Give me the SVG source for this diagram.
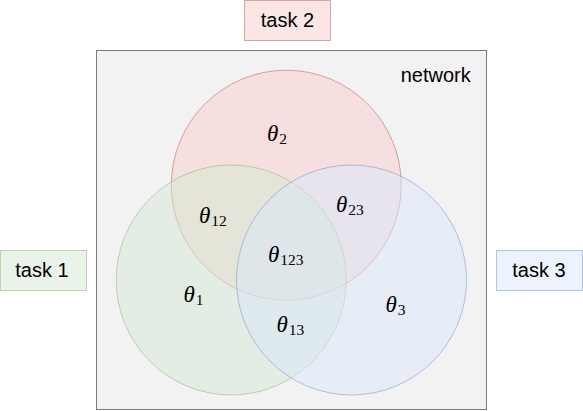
<svg xmlns="http://www.w3.org/2000/svg" width="583" height="411" viewBox="0 0 583 411">
<style>
.lbl{font-family:"Liberation Sans",Arial,sans-serif;font-size:20px;fill:#000;}
.th{font-family:"Liberation Serif","Times New Roman",serif;font-style:italic;font-size:23px;fill:#000;}
.sub{font-style:normal;font-size:15.5px;}
.red{fill:#f8cecc;stroke:#b85450;fill-opacity:0.5;stroke-opacity:0.5;stroke-width:1;}
.green{fill:#d5e8d4;stroke:#82b366;fill-opacity:0.5;stroke-opacity:0.5;stroke-width:1;}
.blue{fill:#dae8fc;stroke:#6c8ebf;fill-opacity:0.5;stroke-opacity:0.5;stroke-width:1;}
</style>
<rect width="583" height="411" fill="#ffffff"/>
<g id="network">
<rect x="96.5" y="50.5" width="390" height="359" fill="#f2f2f2" stroke="#7a7a7a" stroke-width="1"/>
<text class="lbl" x="470.7" y="81.5" text-anchor="end">network</text>
</g>
<g id="task2">
<rect class="red" x="244.5" y="0.5" width="86" height="40"/>
<text class="lbl" x="287.5" y="27.3" text-anchor="middle">task 2</text>
</g>
<g id="task1">
<rect class="green" x="0.5" y="250.5" width="86" height="40"/>
<text class="lbl" x="42" y="277" text-anchor="middle">task 1</text>
</g>
<g id="task3">
<rect class="blue" x="496.5" y="250.5" width="86" height="40"/>
<text class="lbl" x="539" y="277" text-anchor="middle">task 3</text>
</g>
<g id="circle-task2"><circle class="red" cx="286.3" cy="185.2" r="115"/></g>
<g id="circle-task1"><circle class="green" cx="231.2" cy="280" r="115"/></g>
<g id="circle-task3"><circle class="blue" cx="351.5" cy="280" r="115"/></g>
<g id="labels">
<text class="th" x="267" y="141">θ<tspan class="sub" dx="1" dy="3">2</tspan></text>
<text class="th" x="199" y="222.5">θ<tspan class="sub" dx="1" dy="3">12</tspan></text>
<text class="th" x="336" y="211.7">θ<tspan class="sub" dx="1" dy="3">23</tspan></text>
<text class="th" x="268" y="261.7">θ<tspan class="sub" dx="1" dy="3">123</tspan></text>
<text class="th" x="183.5" y="301.7">θ<tspan class="sub" dx="1" dy="3">1</tspan></text>
<text class="th" x="276.5" y="331.7">θ<tspan class="sub" dx="1" dy="3">13</tspan></text>
<text class="th" x="385.5" y="311.7">θ<tspan class="sub" dx="1" dy="3">3</tspan></text>
</g>
<g id="connectors"></g>
</svg>
